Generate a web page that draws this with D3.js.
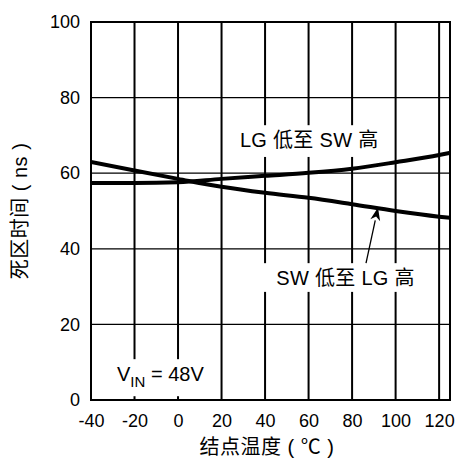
<!DOCTYPE html>
<html>
<head>
<meta charset="utf-8">
<script src="https://cdn.jsdelivr.net/npm/d3@7"></script>
<style>
  html, body { margin: 0; padding: 0; background: #fff; }
  svg { display: block; }
  text { font-family: "Liberation Sans", Arial, "Noto Sans CJK SC", sans-serif; fill: #000; }
</style>
</head>
<body>
<script>
// Junction temperature (°C) sample points
const temps = [-40, -20, 0, 20, 40, 60, 80, 100, 120, 125];
// Dead time (ns): LG low to SW high
const lgLowSwHigh = [57.4, 57.4, 57.6, 58.5, 59.3, 60.1, 61.2, 62.9, 64.8, 65.4];
// Dead time (ns): SW low to LG high
const swLowLgHigh = [63.0, 60.7, 58.5, 56.4, 54.8, 53.5, 51.8, 50.0, 48.5, 48.2];

const xTicks = [-40, -20, 0, 20, 40, 60, 80, 100, 120];
const yTicks = [0, 20, 40, 60, 80, 100];
const xGrid = [-20, 0, 20, 40, 60, 80, 100, 120];
const yGrid = [20, 40, 60, 80];

const xTitle = "结点温度 ( ℃ )";
const yTitle = "死区时间 ( ns )";
const labelLgSw = "LG 低至 SW 高";
const labelSwLg = "SW 低至 LG 高";

const W = 459, H = 462;
const svg = d3.select("body").append("svg").attr("width", W).attr("height", H);

const x = d3.scaleLinear().domain([-40, 125]).range([91, 450]);
const y = d3.scaleLinear().domain([0, 100]).range([400, 22]);

// grid
const g = svg.append("g");
g.selectAll("line.vg").data(xGrid).join("line")
  .attr("x1", d => x(d)).attr("x2", d => x(d))
  .attr("y1", y(0)).attr("y2", y(100))
  .attr("stroke", "#000").attr("stroke-width", 2);
g.selectAll("line.hg").data(yGrid).join("line")
  .attr("x1", x(-40)).attr("x2", x(125))
  .attr("y1", d => y(d)).attr("y2", d => y(d))
  .attr("stroke", "#000").attr("stroke-width", 1.3);

// white label backgrounds that break the grid (data units)
function bg(x0, y0, x1, y1) {
  svg.append("rect")
    .attr("x", x(x0)).attr("y", y(y0))
    .attr("width", x(x1) - x(x0)).attr("height", y(y1) - y(y0))
    .attr("fill", "#fff");
}
bg(21.6, 72.7, 98.8, 64.3);   // LG label
bg(37.5, 36.2, 115, 28.6);    // SW label
bg(-32, 10.8, 17, 1);         // VIN label

// curves
const line = d3.line().x((d, i) => x(temps[i])).y(d => y(d)).curve(d3.curveMonotoneX);
svg.append("defs").append("clipPath").attr("id", "clip")
  .append("rect").attr("x", x(-40)).attr("y", y(100))
  .attr("width", x(125) - x(-40)).attr("height", y(0) - y(100));
const curves = svg.append("g").attr("clip-path", "url(#clip)");
[lgLowSwHigh, swLowLgHigh].forEach(s => {
  curves.append("path").datum(s).attr("d", line)
    .attr("fill", "none").attr("stroke", "#000")
    .attr("stroke-width", 4).attr("stroke-linejoin", "round");
});

// frame
svg.append("rect")
  .attr("x", x(-40)).attr("y", y(100))
  .attr("width", x(125) - x(-40)).attr("height", y(0) - y(100))
  .attr("fill", "none").attr("stroke", "#000").attr("stroke-width", 2);

// axes
const fmt = d => String(d);
const xAxis = svg.append("g").attr("transform", `translate(0,${y(0)})`)
  .call(d3.axisBottom(x).tickValues(xTicks).tickSize(0).tickPadding(14).tickFormat(fmt));
const yAxis = svg.append("g").attr("transform", `translate(${x(-40)},0)`)
  .call(d3.axisLeft(y).tickValues(yTicks).tickSize(0).tickPadding(11).tickFormat(fmt));
[xAxis, yAxis].forEach(a => {
  a.select(".domain").remove();
  a.selectAll("text").attr("font-size", 18)
    .attr("font-family", '"Liberation Sans", Arial, sans-serif').attr("fill", "#000");
});

// axis titles
svg.append("text").attr("x", 267).attr("y", 454)
  .attr("text-anchor", "middle").attr("font-size", 20).attr("letter-spacing", 0.5).text(xTitle);
svg.append("text")
  .attr("transform", `translate(27,${(y(0) + y(100)) / 2}) rotate(-90)`)
  .attr("text-anchor", "middle").attr("font-size", 20).attr("letter-spacing", 0.5).text(yTitle);

// series labels
svg.append("text").attr("x", x(60.3)).attr("y", 147)
  .attr("text-anchor", "middle").attr("font-size", 20).attr("letter-spacing", 0.3).text(labelLgSw);
svg.append("text").attr("x", x(77)).attr("y", 285)
  .attr("text-anchor", "middle").attr("font-size", 20).attr("letter-spacing", 0.3).text(labelSwLg);

// arrow from the SW label to its curve
const arrowFrom = [86.4, 36.2], arrowTo = [91.9, 50.9];
const ax0 = x(arrowFrom[0]), ay0 = y(arrowFrom[1]);
const ax1 = x(arrowTo[0]), ay1 = y(arrowTo[1]);
const ang = Math.atan2(ay1 - ay0, ax1 - ax0);
const hl = 13, hw = 5;
const bx = ax1 - hl * Math.cos(ang), by = ay1 - hl * Math.sin(ang);
svg.append("line").attr("x1", ax0).attr("y1", ay0).attr("x2", bx).attr("y2", by)
  .attr("stroke", "#000").attr("stroke-width", 1.3);
svg.append("path")
  .attr("d", `M${ax1},${ay1} L${bx + hw * Math.sin(ang)},${by - hw * Math.cos(ang)} L${ax1 - (hl - 4) * Math.cos(ang)},${ay1 - (hl - 4) * Math.sin(ang)} L${bx - hw * Math.sin(ang)},${by + hw * Math.cos(ang)} Z`)
  .attr("fill", "#000");

// input voltage note
const vin = svg.append("text").attr("x", 117).attr("y", 381).attr("font-size", 20);
vin.append("tspan").text("V");
vin.append("tspan").attr("font-size", 15).attr("dy", 6).text("IN");
vin.append("tspan").attr("dy", -6).text(" = 48V");
</script>
</body>
</html>
